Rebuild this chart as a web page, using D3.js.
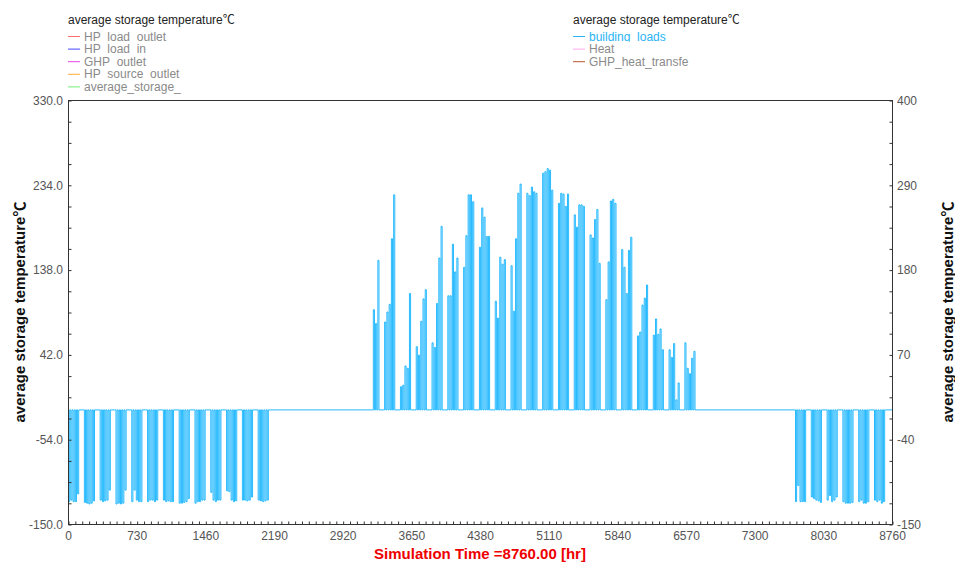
<!DOCTYPE html>
<html>
<head>
<meta charset="utf-8">
<script src="https://cdn.jsdelivr.net/npm/d3@7"></script>
<style>
  body { margin: 0; background: #fff; }
  svg text { font-family: "Liberation Sans", Arial, "Noto Sans CJK SC", sans-serif; }
</style>
</head>
<body>
<svg id="chart" width="955" height="565"></svg>
<script>
// ---- axis ticks ----
const leftTicks  = [330, 234, 138, 42, -54, -150];
const rightTicks = [400, 290, 180, 70, -40, -150];
const hourTicks  = [0, 730, 1460, 2190, 2920, 3650, 4380, 5110, 5840, 6570, 7300, 8030, 8760];

// ---- legend entries ----
const leftLegendTitle  = "average storage temperature℃";
const leftLegendNames  = ["HP_load_outlet", "HP_load_in", "GHP_outlet", "HP_source_outlet", "average_storage_"];
const leftLegendColors = ["#ff6b6b", "#4646ff", "#e645e6", "#ffb03a", "#74ef74"];
const rightLegendTitle  = "average storage temperature℃";
const rightLegendNames  = ["building_loads", "Heat", "GHP_heat_transfe"];
const rightLegendColors = ["#2ab4f6", "#ffaaee", "#b5572a"];

// ---- building loads: daily peak per working day (Mon..Fri), grouped by week ----
const idleLoad = -2;          // load between occupied hours
const occupiedFrom = 6;       // hour of day when the load switches on
const occupiedTo = 18;        // hour of day when it switches off

const winterStartWeek = 0;
const winterLoads = [
  [-121, -119, -121, -121, -111],
  [-122, -123, -124, -123, -120],
  [-119, -121, -120, -119, -106],
  [-124, -123, -124, -123, -106],
  [-121, -106, -119, -121, -121],
  [-121, -119, -119, -121, -119],
  [-119, -121, -120, -121, -121],
  [-123, -123, -122, -121, -117],
  [-123, -121, -121, -119, -119],
  [-109, -119, -121, -119, -119],
  [-107, -108, -119, -121, -120],
  [-119, -119, -120, -119, -115],
  [-119, -120, -121, -120, -119]
];

const summerStartWeek = 19;
const summerLoads = [
  [null, null, 128, 110, 192],
  [112, 125, 135, 220, 277],
  [28, 30, 55, 52, 149],
  [80, 69, 113, 142, 154],
  [85, 79, 136, 195, 236],
  [146, 146, 213, 177, 195],
  [183, 224, 277, 277, 268],
  [209, 260, 248, 223, 223],
  [139, 117, 196, 187, 193],
  [185, 126, 220, 279, 291],
  [279, 276, 287, 281, 279],
  [305, 307, 311, 309, 283],
  [266, 279, 278, 262, 278],
  [251, 235, 264, 264, 262],
  [225, 221, 245, 258, 188],
  [141, 190, 269, 271, 266],
  [206, 183, 149, 205, 222],
  [94, 99, 134, 143, 160],
  [95, 116, 96, 103, 76],
  [76, 66, 84, 11, 33],
  [85, 52, 45, 65, 74]
];

const lateWinterStartWeek = 46;
const lateWinterLoads = [
  [-121, -100, -121, -121, -121],
  [-115, -117, -119, -120, -122],
  [-119, -113, -121, -119, -115],
  [-121, -123, -123, -123, -122],
  [-121, -119, -123, -123, -121],
  [-119, -121, -119, -123, -121]
];

// ---- layout ----
const svg = d3.select("#chart");
const plot = { left: 68, top: 100, right: 892, bottom: 524 };

const x = d3.scaleLinear().domain([0, 8760]).range([plot.left, plot.right]);
const yLeft = d3.scaleLinear().domain([-150, 330]).range([plot.bottom, plot.top]);
const yRight = d3.scaleLinear().domain([-150, 400]).range([plot.bottom, plot.top]);

// ---- hourly series built from the daily peaks ----
const points = [[0, idleLoad]];
function addSeason(startWeek, weeks) {
  weeks.forEach((week, w) => {
    week.forEach((v, d) => {
      if (v == null) return;
      const day = (startWeek + w) * 7 + d;
      const h0 = day * 24 + occupiedFrom, h1 = day * 24 + occupiedTo;
      points.push([h0, idleLoad], [h0, v], [h1, v], [h1, idleLoad]);
    });
  });
}
addSeason(winterStartWeek, winterLoads);
addSeason(summerStartWeek, summerLoads);
addSeason(lateWinterStartWeek, lateWinterLoads);
points.push([8760, idleLoad]);

svg.append("defs").append("clipPath").attr("id", "plotClip")
  .append("rect").attr("x", plot.left).attr("y", plot.top)
  .attr("width", plot.right - plot.left).attr("height", plot.bottom - plot.top);

const line = d3.line().x(d => x(d[0])).y(d => yRight(d[1]));
svg.append("path")
  .datum(points)
  .attr("clip-path", "url(#plotClip)")
  .attr("fill", "none")
  .attr("stroke", "#00adff")
  .attr("stroke-width", 0.85)
  .attr("d", line);

// ---- frame ----
svg.append("rect")
  .attr("x", plot.left + 0.5).attr("y", plot.top + 0.5)
  .attr("width", plot.right - plot.left).attr("height", plot.bottom - plot.top)
  .attr("fill", "none").attr("stroke", "#333").attr("stroke-width", 1);

// ---- axes ----
function styleAxis(g) {
  g.select(".domain").remove();
  g.selectAll(".tick line").attr("stroke", "#333");
  g.selectAll(".tick text").attr("fill", "#555").attr("font-size", 12)
    .style("font-family", '"Liberation Sans", Arial, sans-serif');
}

const minorLeft = d3.range(-150, 330.01, 24);
const minorRight = d3.range(-150, 400.01, 27.5);
const minorHours = d3.range(0, 8760.01, 73);

svg.append("g").attr("transform", `translate(${plot.left + 0.5},0.5)`)
  .call(d3.axisLeft(yLeft).tickValues(minorLeft).tickSize(-3).tickFormat(""))
  .call(styleAxis);
svg.append("g").attr("transform", `translate(${plot.left},0.5)`)
  .call(d3.axisLeft(yLeft).tickValues(leftTicks).tickSize(0).tickPadding(5)
    .tickFormat(d => d.toFixed(1)))
  .call(styleAxis);

svg.append("g").attr("transform", `translate(${plot.right + 0.5},0.5)`)
  .call(d3.axisRight(yRight).tickValues(minorRight).tickSize(-3).tickFormat(""))
  .call(styleAxis);
svg.append("g").attr("transform", `translate(${plot.right},0.5)`)
  .call(d3.axisRight(yRight).tickValues(rightTicks).tickSize(0).tickPadding(5)
    .tickFormat(d => String(d)))
  .call(styleAxis);

svg.append("g").attr("transform", `translate(0.5,${plot.bottom + 0.5})`)
  .call(d3.axisBottom(x).tickValues(minorHours).tickSize(-3).tickFormat(""))
  .call(styleAxis);
svg.append("g").attr("transform", `translate(0,${plot.bottom})`)
  .call(d3.axisBottom(x).tickValues(hourTicks).tickSize(0).tickPadding(7)
    .tickFormat(d => String(d)))
  .call(styleAxis);

// ---- axis titles ----
const midY = (plot.top + plot.bottom) / 2;
svg.append("text")
  .attr("transform", `translate(25,${midY}) rotate(-90)`)
  .attr("text-anchor", "middle")
  .attr("font-size", 15).attr("font-weight", "bold").attr("fill", "#111")
  .text("average storage temperature℃");
svg.append("text")
  .attr("transform", `translate(953,${midY}) rotate(-90)`)
  .attr("text-anchor", "middle")
  .attr("font-size", 15).attr("font-weight", "bold").attr("fill", "#111")
  .text("average storage temperature℃");
svg.append("text")
  .attr("x", (plot.left + plot.right) / 2).attr("y", 559)
  .attr("text-anchor", "middle")
  .attr("font-size", 15).attr("font-weight", "bold").attr("fill", "#ee0000")
  .text("Simulation Time =8760.00 [hr]");

// ---- legends ----
function drawLegend(x0, title, names, colors, textColors) {
  const g = svg.append("g");
  g.append("text").attr("x", x0).attr("y", 24)
    .attr("font-size", 12).attr("fill", "#222").text(title);
  const rowY = i => 36 + i * 12.6;
  // rows are stacked tightly, so each row's box hides the previous row's descenders
  names.forEach((name, i) => {
    const cy = rowY(i);
    g.append("rect").attr("x", x0).attr("y", cy - 7).attr("width", 140).attr("height", 14)
      .attr("fill", "#fff");
    g.append("line").attr("x1", x0).attr("x2", x0 + 12)
      .attr("y1", cy + 0.5).attr("y2", cy + 0.5)
      .attr("stroke", colors[i]).attr("stroke-width", 1);
    g.append("text").attr("x", x0 + 16).attr("y", cy + 4.5)
      .attr("font-size", 12).attr("fill", textColors[i]).text(name);
  });
}
drawLegend(68, leftLegendTitle, leftLegendNames, leftLegendColors,
  leftLegendNames.map(() => "#8a8a8a"));
drawLegend(573, rightLegendTitle, rightLegendNames, rightLegendColors,
  ["#2ab4f6", "#8a8a8a", "#8a8a8a"]);
</script>
</body>
</html>
